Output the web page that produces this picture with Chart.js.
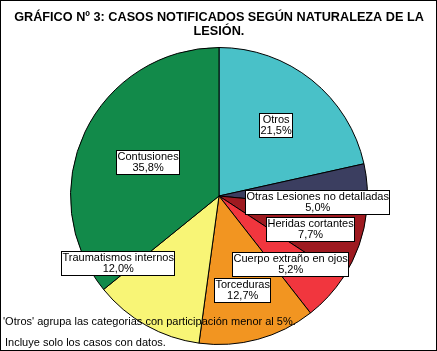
<!DOCTYPE html>
<html>
<head>
<meta charset="utf-8">
<script src="https://cdn.jsdelivr.net/npm/chart.js@4/dist/chart.umd.min.js"></script>
<style>
  html, body { margin: 0; padding: 0; background: #fff; }
  #wrap { width: 437px; height: 351px; position: relative; }
</style>
</head>
<body>
<div id="wrap"><canvas id="chart"></canvas></div>
<script>
const categories = [
    "Otros",
    "Otras Lesiones no detalladas",
    "Heridas cortantes",
    "Cuerpo extraño en ojos",
    "Torceduras",
    "Traumatismos internos",
    "Contusiones",
];
const percents = [21.5, 5.0, 7.7, 5.2, 12.7, 12.0, 35.8];
const percentLabels = ["21,5%", "5,0%", "7,7%", "5,2%", "12,7%", "12,0%", "35,8%"];

const colors = ["#49c1c8", "#3b3e60", "#9e1a20", "#f1363e", "#f29521", "#f8f576", "#128a4a"];

// label placement: angle shift (deg) from slice middle, distance as fraction of radius
const labelPlace = [
    [0, 0.61], [7, 0.66], [0.5, 0.65], [1, 0.66],
    [1, 0.65], [27, 0.82], [0, 0.53],
];

const titleLines = ["GRÁFICO Nº 3: CASOS NOTIFICADOS SEGÚN NATURALEZA DE LA", "LESIÓN."];
const notes = ["'Otros' agrupa las categorias con participación menor al 5%.", "Incluye solo los casos con datos."];

const textPlugin = {
    id: 'texts',
    afterDatasetsDraw(chart) {
        const ctx = chart.ctx;
        const meta = chart.getDatasetMeta(0);
        ctx.save();
        ctx.font = '11px "Liberation Sans", Arial, sans-serif';
        ctx.textAlign = 'center';
        ctx.textBaseline = 'middle';
        meta.data.forEach((arc, i) => {
            const p = arc.getProps(['x', 'y', 'startAngle', 'endAngle', 'outerRadius'], true);
            const a = (p.startAngle + p.endAngle) / 2 + labelPlace[i][0] * Math.PI / 180;
            const r = p.outerRadius * labelPlace[i][1];
            const cx = p.x + Math.cos(a) * r;
            const cy = p.y + Math.sin(a) * r;
            const w = Math.max(ctx.measureText(categories[i]).width, ctx.measureText(percentLabels[i]).width) + 2;
            const h = 24;
            const x0 = Math.round(cx - w / 2) + 0.5, y0 = Math.round(cy - h / 2) + 0.5;
            ctx.fillStyle = '#fff';
            ctx.fillRect(x0, y0, Math.round(w), h);
            ctx.strokeStyle = '#000';
            ctx.lineWidth = 1;
            ctx.strokeRect(x0, y0, Math.round(w), h);
            ctx.fillStyle = '#000';
            ctx.fillText(categories[i], x0 + w / 2, y0 + 6.5);
            ctx.fillText(percentLabels[i], x0 + w / 2, y0 + 17.5);
        });

        ctx.font = 'bold 12.7px "Liberation Sans", Arial, sans-serif';
        ctx.fillText(titleLines[0], 219, 17);
        ctx.fillText(titleLines[1], 219, 31);

        ctx.font = '11px "Liberation Sans", Arial, sans-serif';
        ctx.textAlign = 'left';
        ctx.fillText(notes[0], 3, 322);
        ctx.fillText(notes[1], 5, 343);

        ctx.strokeStyle = '#000';
        ctx.lineWidth = 1;
        ctx.strokeRect(0.5, 0.5, chart.width - 1, chart.height - 1);
        ctx.restore();
    }
};

new Chart('chart', {
    type: 'pie',
    data: {
        labels: categories,
        datasets: [{
            data: percents,
            backgroundColor: colors,
            borderColor: '#000',
            borderWidth: 1,
        }]
    },
    options: {
        responsive: true,
        maintainAspectRatio: false,
        animation: false,
        layout: { padding: { left: 70, right: 69, top: 47, bottom: 6 } },
        plugins: {
            legend: { display: false },
            tooltip: { enabled: false },
        }
    },
    plugins: [textPlugin]
});
</script>
</body>
</html>
